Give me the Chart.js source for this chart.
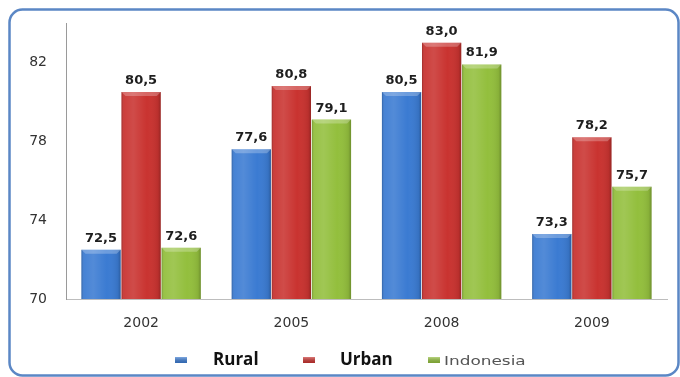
<!DOCTYPE html>
<html>
<head>
<meta charset="utf-8">
<style>
  html, body { margin: 0; padding: 0; background: #ffffff; }
  canvas { display: block; }
</style>
<script src="https://cdn.jsdelivr.net/npm/chart.js@4.4.1/dist/chart.umd.min.js"></script>
</head>
<body>
<canvas id="chart" width="680" height="377"></canvas>
<script>
// Years on the category axis
const years = ['2002', '2005', '2008', '2009'];
// Values per area
const rural = [72.5, 77.6, 80.5, 73.3];
const urban = [80.5, 80.8, 83.0, 78.2];
const indonesia = [72.6, 79.1, 81.9, 75.7];
// Value axis ticks
const yTicks = [70, 74, 78, 82];
// Series names
const seriesNames = ['Rural', 'Urban', 'Indonesia'];

const colors = ['#3b7bd2', '#c93330', '#93bf3d'];

// Rounded blue frame round the whole chart
const framePlugin = {
  id: 'frame',
  beforeDraw(chart) {
    const ctx = chart.ctx;
    ctx.save();
    ctx.fillStyle = '#ffffff';
    ctx.fillRect(0, 0, chart.width, chart.height);
    ctx.beginPath();
    ctx.roundRect(9.5, 9.5, 669, 366, 13);
    ctx.lineWidth = 2.5;
    ctx.strokeStyle = '#5b87c5';
    ctx.stroke();
    ctx.restore();
  }
};

// Bevel shading on the bars, then the value labels above them
const barDecor = {
  id: 'barDecor',
  afterDatasetsDraw(chart) {
    const ctx = chart.ctx;
    const area = chart.chartArea;
    ctx.save();
    chart.data.datasets.forEach((ds, di) => {
      const meta = chart.getDatasetMeta(di);
      meta.data.forEach((bar) => {
        const x0 = bar.x - bar.width / 2;
        const x1 = bar.x + bar.width / 2;
        const top = bar.y;
        const bottom = Math.min(bar.base, area.bottom);
        const g = ctx.createLinearGradient(x0, 0, x1, 0);
        g.addColorStop(0, 'rgba(0,0,0,0.22)');
        g.addColorStop(0.07, 'rgba(255,255,255,0.06)');
        g.addColorStop(0.3, 'rgba(255,255,255,0.12)');
        g.addColorStop(0.65, 'rgba(255,255,255,0)');
        g.addColorStop(0.93, 'rgba(0,0,0,0.08)');
        g.addColorStop(1, 'rgba(0,0,0,0.25)');
        ctx.fillStyle = g;
        ctx.fillRect(x0, top, x1 - x0, bottom - top);
        // top bevel
        ctx.beginPath();
        ctx.moveTo(x0, top);
        ctx.lineTo(x1, top);
        ctx.lineTo(x1 - 4, top + 4);
        ctx.lineTo(x0 + 4, top + 4);
        ctx.closePath();
        ctx.fillStyle = 'rgba(255,255,255,0.25)';
        ctx.fill();
      });
    });
    ctx.font = 'bold 13px "DejaVu Sans"';
    ctx.fillStyle = '#1e1e1e';
    ctx.textAlign = 'center';
    ctx.textBaseline = 'alphabetic';
    chart.data.datasets.forEach((ds, di) => {
      const meta = chart.getDatasetMeta(di);
      meta.data.forEach((bar, i) => {
        const txt = ds.data[i].toFixed(1).replace('.', ',');
        ctx.fillText(txt, bar.x, bar.y - 8);
      });
    });
    ctx.restore();
  }
};

// Legend row under the axis
const legendRow = {
  id: 'legendRow',
  afterDraw(chart) {
    const ctx = chart.ctx;
    const items = [
      { box: 175, text: 213, font: 'bold 17px "Open Sans"', color: '#111111', sx: 1 },
      { box: 303, text: 340, font: 'bold 17px "Open Sans"', color: '#111111', sx: 1 },
      { box: 428, text: 444, font: '13px "DejaVu Sans"', color: '#555555', sx: 1.3 }
    ];
    ctx.save();
    items.forEach((it, k) => {
      const bx = it.box, by = 357, bw = 12, bh = 6;
      ctx.fillStyle = colors[k];
      ctx.fillRect(bx, by, bw, bh);
      const g = ctx.createLinearGradient(0, by, 0, by + bh);
      g.addColorStop(0, 'rgba(255,255,255,0.35)');
      g.addColorStop(1, 'rgba(0,0,0,0.15)');
      ctx.fillStyle = g;
      ctx.fillRect(bx, by, bw, bh);
      ctx.font = it.font;
      ctx.fillStyle = it.color;
      ctx.textAlign = 'left';
      ctx.textBaseline = 'alphabetic';
      ctx.save();
      ctx.translate(it.text, 365);
      ctx.scale(it.sx, 1);
      ctx.fillText(chart.data.datasets[k].label, 0, 0);
      ctx.restore();
    });
    ctx.restore();
  }
};

new Chart(document.getElementById('chart'), {
  type: 'bar',
  data: {
    labels: years,
    datasets: [
      { label: seriesNames[0], data: rural, backgroundColor: colors[0] },
      { label: seriesNames[1], data: urban, backgroundColor: colors[1] },
      { label: seriesNames[2], data: indonesia, backgroundColor: colors[2] }
    ]
  },
  options: {
    responsive: false,
    devicePixelRatio: 1,
    animation: false,
    layout: { padding: { top: 23, right: 13, left: 0, bottom: 0 } },
    datasets: { bar: { categoryPercentage: 0.8, barPercentage: 0.98, borderWidth: 0 } },
    plugins: {
      legend: { display: false },
      tooltip: { enabled: false }
    },
    scales: {
      x: {
        grid: { display: false, drawTicks: false },
        border: { display: true, color: '#bdbdbd', width: 1 },
        ticks: { font: { family: 'DejaVu Sans', size: 14 }, color: '#333333', padding: 16 },
        afterFit(scale) { scale.height = 78; }
      },
      y: {
        min: 70,
        max: 84,
        grid: { display: false, drawTicks: false },
        border: { display: true, color: '#9a9a9a', width: 1 },
        ticks: { font: { family: 'DejaVu Sans', size: 14 }, color: '#333333', padding: 19 },
        afterBuildTicks(scale) { scale.ticks = yTicks.map(v => ({ value: v })); },
        afterFit(scale) {
          scale.width = 66;
          scale.paddingTop = 0;
          scale.paddingBottom = 0;
        }
      }
    }
  },
  plugins: [framePlugin, barDecor, legendRow]
});
</script>
</body>
</html>
